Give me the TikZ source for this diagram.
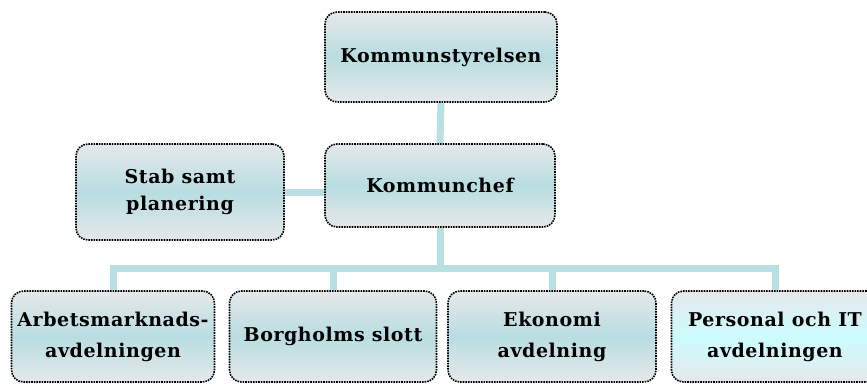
\documentclass[tikz,border=0pt]{standalone}
\usepackage{fontspec}
\setmainfont{DejaVu Serif}[LetterSpace=3]
\usetikzlibrary{backgrounds}
\definecolor{gtop}{HTML}{E6E8E9}
\definecolor{gmid}{HTML}{B8DDE1}
\definecolor{gcyan}{HTML}{CCFCFE}
\definecolor{conncol}{HTML}{B9DFE2}
\tikzset{
  box/.style={draw=black, line width=1.6pt, dash pattern=on 1.6pt off 1pt,
    rounded corners=12pt, top color=gtop, bottom color=gtop, middle color=gmid,
    align=center, inner sep=0pt,
    font=\fontsize{19}{27}\selectfont\bfseries},
  lowbox/.style={box, font=\fontsize{19}{31}\selectfont\bfseries},
  cyanbox/.style={lowbox, middle color=gcyan},
  conn/.style={draw=conncol, line width=7pt, line join=miter}
}
\begin{document}
\begin{tikzpicture}[x=1pt, y=-1pt]
\useasboundingbox (0,0) rectangle (867,383);
\clip (0,0) rectangle (867,383);
\node[box, minimum width=232pt, minimum height=90pt] (ks) at (441,57) {Kommunstyrelsen};
\node[box, minimum width=230pt, minimum height=83pt] (kc) at (440,185.5) {Kommunchef};
\node[box, minimum width=208pt, minimum height=96pt] (stab) at (180,192) {Stab samt\\planering};
\node[lowbox, minimum width=203pt, minimum height=91pt] (b1) at (113,336.5) {Arbetsmarknads-\\avdelningen};
\node[lowbox, minimum width=207pt, minimum height=91pt] (b2) at (333,336.5) {Borgholms slott};
\node[lowbox, minimum width=208pt, minimum height=91pt] (b3) at (552,336.5) {Ekonomi\\avdelning};
\node[cyanbox, minimum width=207pt, minimum height=91pt] (b4) at (775,336.5) {Personal och IT\\avdelningen};
\coordinate (bus) at (440,268.5);
\begin{scope}[on background layer]
\draw[conn] (ks.south) -- (kc.north);
\draw[conn] (stab.east) -- (stab.east -| kc.west);
\draw[conn] (kc.south) -- (kc.south |- bus);
\draw[conn] (b1.north) -- (b1.north |- bus) -- (b4.north |- bus) -- (b4.north);
\draw[conn] (b2.north) -- (b2.north |- bus);
\draw[conn] (b3.north) -- (b3.north |- bus);
\end{scope}
\end{tikzpicture}
\end{document}
